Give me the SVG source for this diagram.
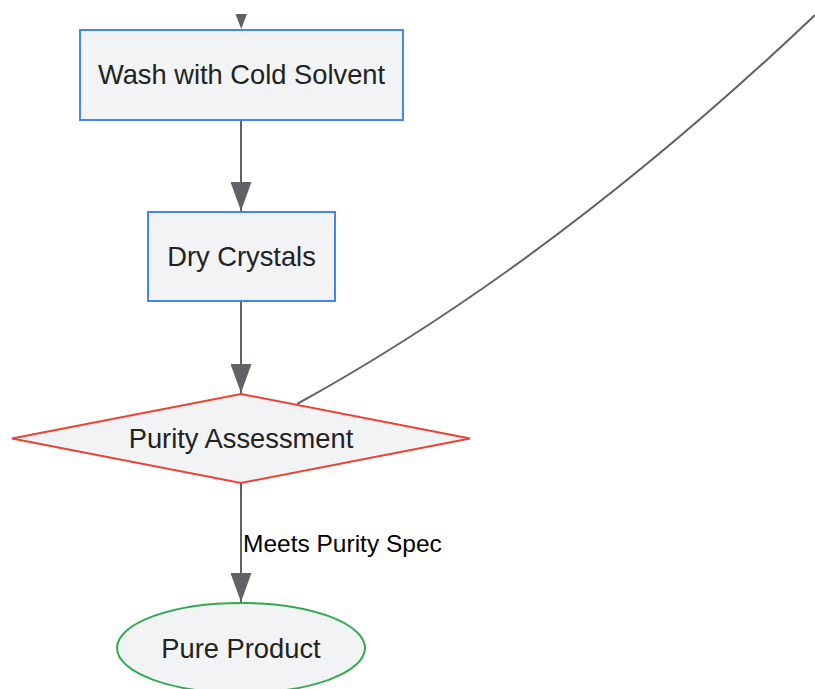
<svg xmlns="http://www.w3.org/2000/svg" width="815" height="689" viewBox="0 0 815 689">
<style>
.node{fill:#f1f3f4;stroke-width:2}
.proc{stroke:#4285f4}
.dec{stroke:#ea4335}
.term{stroke:#34a853}
.t{font-family:"Liberation Sans",Arial,sans-serif;font-size:27.3px;fill:#222;text-anchor:middle}
.lbl{font-family:"Liberation Sans",Arial,sans-serif;font-size:24.5px;fill:#000}
.edge{fill:none;stroke:#5f6368;stroke-width:2}
</style>
<defs>
<marker id="arr" markerUnits="userSpaceOnUse" markerWidth="30" markerHeight="21" refX="29" refY="10.5" orient="auto" viewBox="0 0 30 21">
<path d="M0,0 L29,10.5 L0,21 Z" fill="#5f6368"/>
</marker>
</defs>
<rect width="815" height="689" fill="#fff"/>
<g id="connectors">
<polygon points="235.5,14 247,14 241.2,29" fill="#5f6368"/>
<path class="edge" d="M241,120 L241,211" marker-end="url(#arr)"/>
<path class="edge" d="M241,301 L241,393" marker-end="url(#arr)"/>
<path class="edge" d="M297,404 Q555,262 815,15"/>
<path class="edge" d="M241,483 L241,602" marker-end="url(#arr)"/>
<text class="lbl" x="243" y="552">Meets Purity Spec</text>
</g>
<g id="wash">
<rect class="node proc" x="80" y="30" width="323" height="90"/>
<text class="t" x="241.5" y="84">Wash with Cold Solvent</text>
</g>
<g id="dry">
<rect class="node proc" x="148" y="212" width="187" height="89"/>
<text class="t" x="241.5" y="266">Dry Crystals</text>
</g>
<g id="purity">
<polygon class="node dec" points="241,394 470,438.5 241,483 12,438.5"/>
<text class="t" x="241" y="448">Purity Assessment</text>
</g>
<g id="pure">
<ellipse class="node term" cx="241" cy="648" rx="124" ry="45"/>
<text class="t" x="241" y="658">Pure Product</text>
</g>
</svg>
